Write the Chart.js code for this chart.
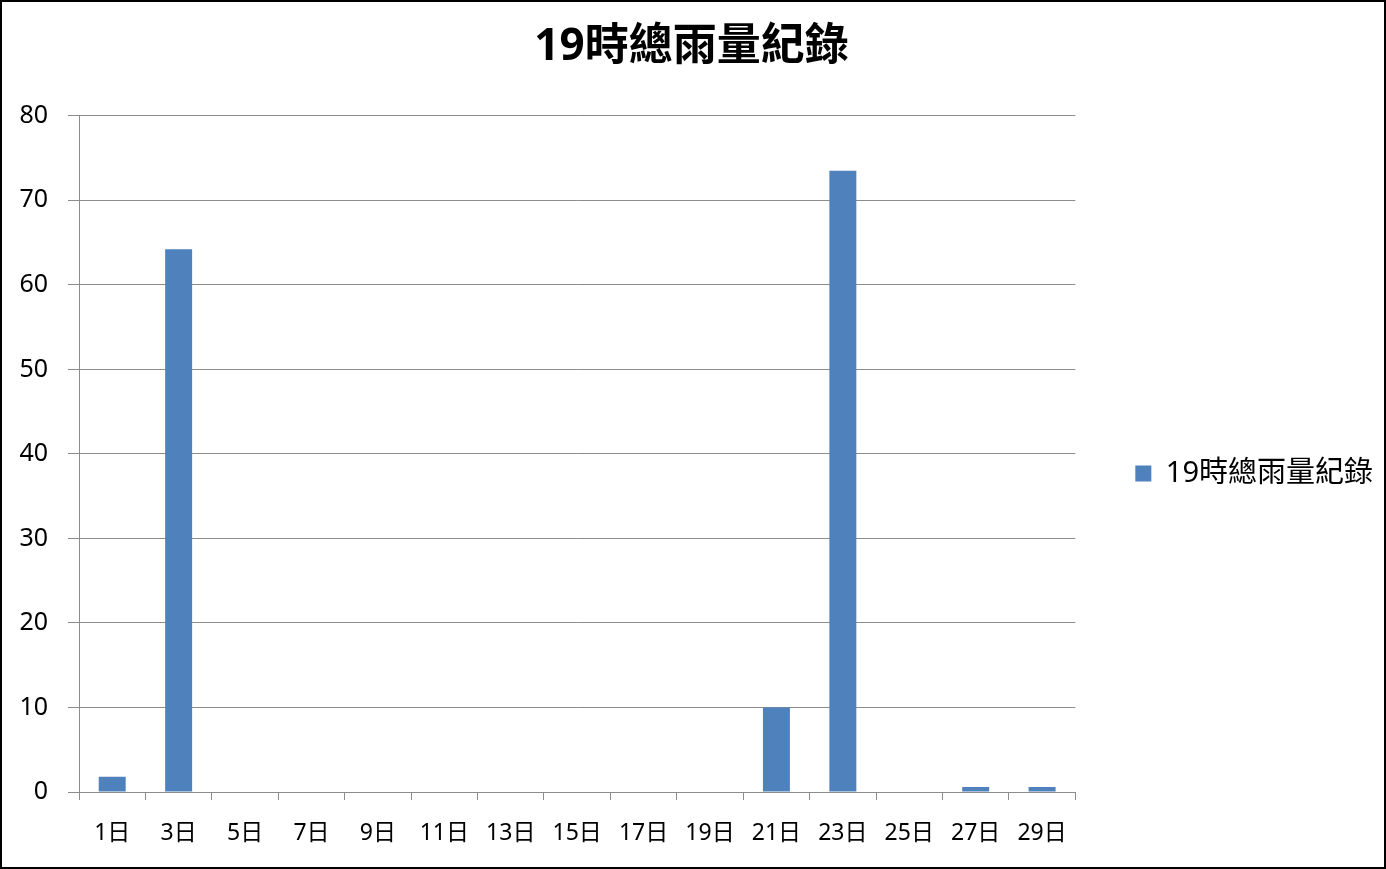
<!DOCTYPE html>
<html>
<head>
<meta charset="utf-8">
<script src="https://cdn.jsdelivr.net/npm/chart.js@4.4.0/dist/chart.umd.min.js"></script>
<style>
html,body{margin:0;padding:0;background:#fff;}
#wrap{position:absolute;left:0;top:0;width:1386px;height:869px;}
</style>
</head>
<body>
<div id="wrap"><canvas id="c" width="1386" height="869"></canvas></div>
<script>
const chartTitle = '19時總雨量紀錄';
const seriesName = '19時總雨量紀錄';
const categories = ['1日','3日','5日','7日','9日','11日','13日','15日','17日','19日','21日','23日','25日','27日','29日'];
const rainfall = [1.8, 64.2, 0, 0, 0, 0, 0, 0, 0, 0, 10, 73.5, 0, 0.6, 0.6];
const yTicks = [0, 10, 20, 30, 40, 50, 60, 70, 80];

const FONT = '"Noto Sans", "Noto Sans CJK TC", sans-serif';
const GRID = '#8c8c8c';

const framePlugin = {
  id: 'frame',
  afterLayout(chart) {
    const lg = chart.legend;
    if (lg) { lg.top += 39; lg.bottom += 39; }
  },
  afterDraw(chart) {
    const ctx = chart.ctx;
    ctx.save();
    ctx.strokeStyle = '#000';
    ctx.lineWidth = 2;
    ctx.strokeRect(1, 1, chart.width - 2, chart.height - 2);
    ctx.restore();
  }
};

new Chart(document.getElementById('c'), {
  type: 'bar',
  data: {
    labels: categories,
    datasets: [{
      label: seriesName,
      data: rainfall,
      backgroundColor: '#4F81BD',
      borderWidth: 0,
      categoryPercentage: 1,
      barPercentage: 0.406
    }]
  },
  options: {
    responsive: false,
    animation: false,
    devicePixelRatio: 1,
    layout: { padding: { left: 0, right: 3, top: 0, bottom: 0 } },
    plugins: {
      title: {
        display: true,
        text: chartTitle,
        color: '#000',
        font: { family: FONT, size: 44, weight: 'bold', lineHeight: 1.2 },
        padding: { top: 21, bottom: 42 }
      },
      legend: {
        display: true,
        position: 'right',
        labels: {
          color: '#000',
          font: { family: FONT, size: 29 },
          boxWidth: 16,
          boxHeight: 16,
          padding: 60
        }
      },
      tooltip: { enabled: false }
    },
    scales: {
      x: {
        offset: true,
        grid: { display: true, offset: true, drawOnChartArea: false, drawTicks: true, tickLength: 8, color: GRID },
        border: { display: true, color: GRID, width: 1 },
        ticks: { color: '#000', font: { family: FONT, size: 23 }, padding: 20, maxRotation: 0, autoSkip: false },
        afterFit(s) { s.height = 77; }
      },
      y: {
        min: 0,
        max: 80,
        afterBuildTicks(s) { s.ticks = yTicks.map(v => ({ value: v })); },
        grid: { color: GRID, drawTicks: true, tickLength: 11 },
        border: { display: true, color: GRID, width: 1 },
        ticks: { color: '#000', font: { family: FONT, size: 25 }, padding: 20 },
        afterFit(s) { s.width = 79; }
      }
    }
  },
  plugins: [framePlugin]
});
</script>
</body>
</html>
